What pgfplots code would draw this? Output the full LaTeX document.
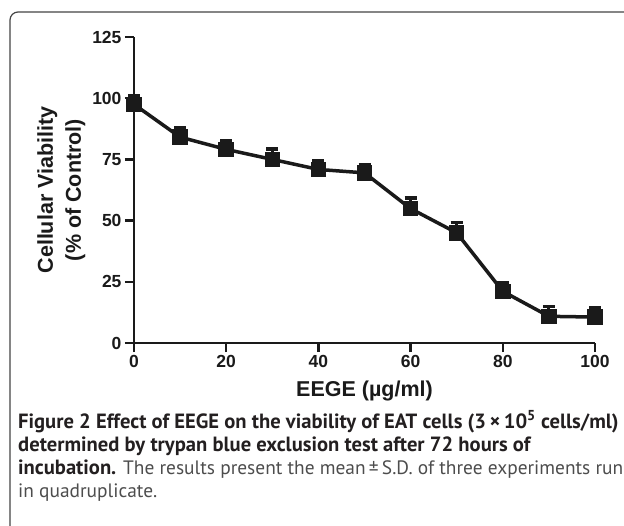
\documentclass[border=0pt]{standalone}
\usepackage{pgfplots}
\pgfplotsset{compat=1.18}
\usepackage{fontspec}
\setmainfont{Liberation Sans}
\newfontfamily\capfont{PT Sans}
\definecolor{ink}{HTML}{1A1A1A}
\definecolor{capbold}{HTML}{231F20}
\definecolor{capreg}{HTML}{4D4D4D}
\definecolor{framec}{HTML}{444444}
\pgfplotstableread{
x y e
0 97.5 3.6
10 84.1 3.8
20 79.1 3.6
30 75.0 4.3
40 70.9 3.7
50 69.5 3.4
60 54.9 4.4
70 45.0 4.3
80 21.1 3.4
90 10.9 4.1
100 10.6 4.0
}\viab
\newcommand\capb[1]{{\fontsize{20.6}{23}\selectfont\bfseries\color{capbold}#1}}
\begin{document}
\begin{tikzpicture}[x=1pt,y=1pt]
\useasboundingbox (0,0) rectangle (624,-525);
\draw[color=framec, line width=1.2pt] (10,-526) -- (10,-20) arc[start angle=180,end angle=90,radius=8] -- (625,-12);
\begin{axis}[
  scale only axis, width=461pt, height=306pt,
  at={(134pt,-343pt)}, anchor=south west,
  xmin=0, xmax=100, ymin=0, ymax=125,
  axis lines=left, axis line style={line width=2.5pt, ink, -},
  tick align=outside, major tick length=9pt,
  xtick={0,20,...,100}, ytick={0,25,...,125},
  tick style={line width=2.5pt, ink},
  tick label style={font=\bfseries\fontsize{17.5}{17.5}\selectfont, text=ink},
  /pgf/number format/assume math mode=true,
  xlabel={EEGE (µg/ml)},
  ylabel={Cellular Viability\\(\% of Control)},
  label style={font=\bfseries\fontsize{21.5}{28}\selectfont, text=ink},
  xlabel style={yshift=-6pt},
  ylabel style={align=center},
  clip=false,
]
\addplot[line width=3.5pt, ink, mark=square*, mark size=6pt, mark options={solid, fill=ink},
  error bars/.cd, y dir=plus, y explicit,
  error bar style={line width=3pt, ink},
  error mark options={rotate=90, mark size=6pt, line width=3.5pt, ink}]
  table[x=x, y=y, y error=e] {\viab};
\end{axis}
\node[anchor=base west, inner sep=0pt, font=\capfont\fontsize{19.4}{23}\selectfont, text=capreg] at (18,-428)
{\capb{Figure 2 Effect of EEGE on the viability of EAT cells (3\,×\,10\textsuperscript{5} cells/ml)}};
\node[anchor=base west, inner sep=0pt, font=\capfont\fontsize{19.4}{23}\selectfont, text=capreg] at (18,-451)
{\capb{determined by trypan blue exclusion test after 72 hours of}};
\node[anchor=base west, inner sep=0pt, font=\capfont\fontsize{19.4}{23}\selectfont, text=capreg] at (18,-474)
{\capb{incubation.} The results present the mean\,±\,S.D. of three experiments run};
\node[anchor=base west, inner sep=0pt, font=\capfont\fontsize{19.4}{23}\selectfont, text=capreg] at (18,-497)
{in quadruplicate.};
\end{tikzpicture}
\end{document}
